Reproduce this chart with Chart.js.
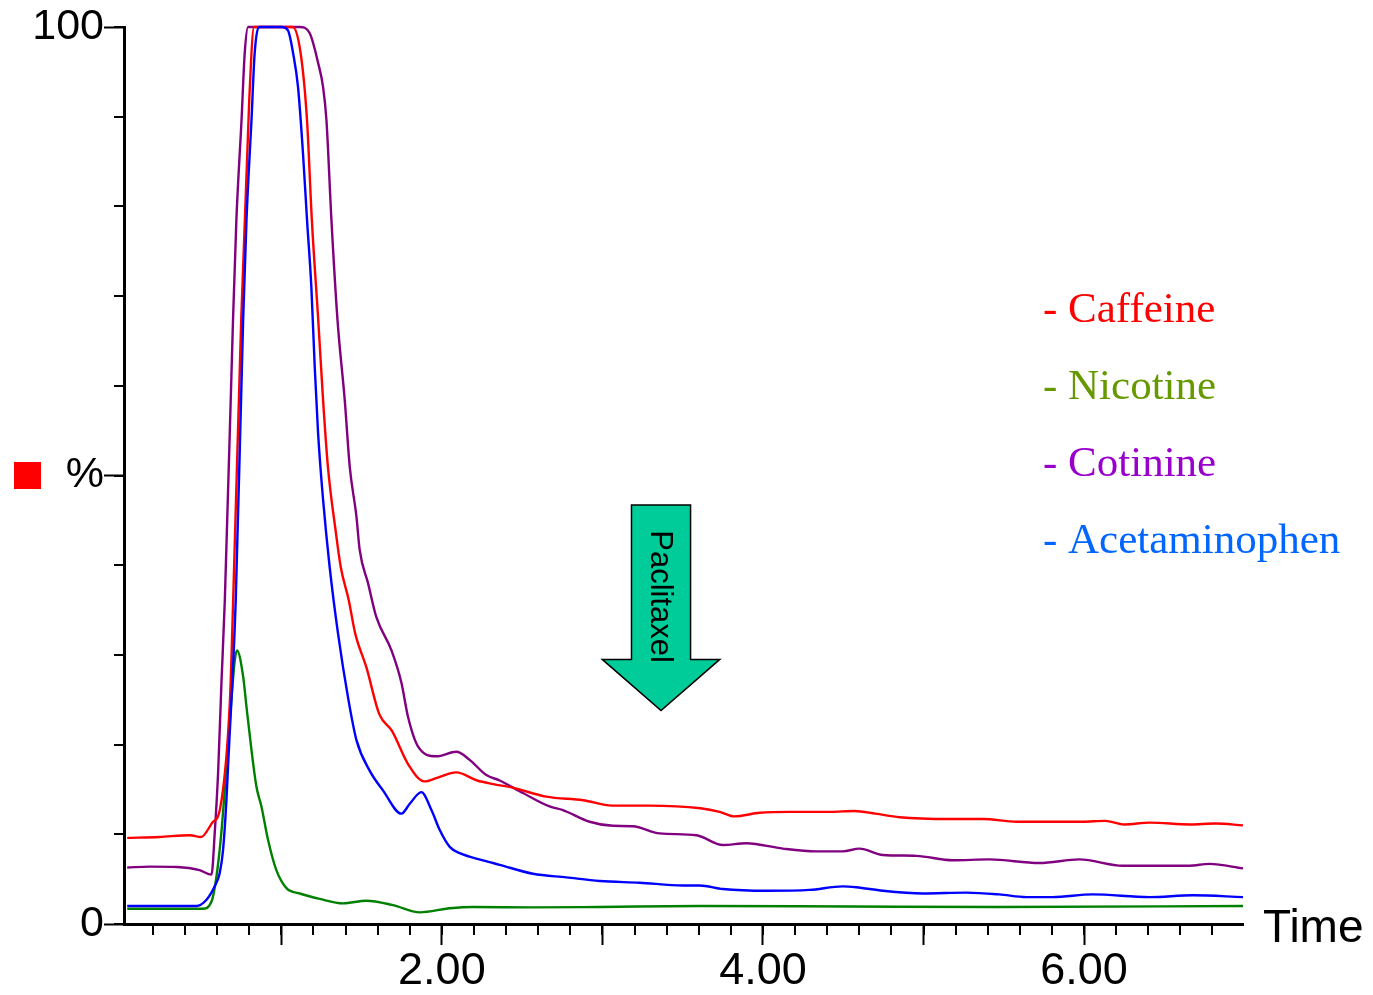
<!DOCTYPE html>
<html>
<head>
<meta charset="utf-8">
<script src="https://cdn.jsdelivr.net/npm/chart.js@4.4.0/dist/chart.umd.min.js"></script>
<style>
  html, body { margin: 0; padding: 0; background: #fff; }
  canvas { display: block; }
</style>
</head>
<body>
<canvas id="chart" width="1373" height="995"></canvas>
<script>
// retention time (min) and relative intensity (%)
const caffeineTime = [0.04,0.24,0.43,0.50,0.57,0.62,0.68,0.70,0.75,0.80,0.83,1.07,1.12,1.16,1.19,1.23,1.26,1.29,1.34,1.37,1.42,1.46,1.53,1.61,1.69,1.79,1.89,1.97,2.09,2.22,2.32,2.44,2.65,2.88,3.06,3.29,3.61,3.73,3.82,3.98,4.17,4.42,4.57,4.70,4.85,5.16,5.37,5.58,5.99,6.13,6.25,6.41,6.66,6.82,6.99];
const caffeineValue = [9.6,9.7,9.9,9.7,11.3,13.0,25.0,36.1,67.3,91.8,100,100,97.1,89.6,78.5,67.3,58.4,51.0,43.6,39.8,36.1,32.4,28.6,23.4,21.5,17.8,15.9,16.3,16.9,16.0,15.6,15.2,14.2,13.8,13.2,13.2,12.9,12.5,12.0,12.4,12.5,12.5,12.6,12.3,11.9,11.7,11.7,11.4,11.4,11.5,11.1,11.3,11.1,11.2,11.0];

const nicotineTime = [0.04,0.51,0.565,0.596,0.627,0.658,0.689,0.710,0.724,0.762,0.783,0.814,0.845,0.876,0.917,0.969,1.032,1.115,1.239,1.384,1.530,1.696,1.862,2.049,2.194,2.567,2.983,3.605,4.54,5.473,6.99];
const nicotineValue = [1.7,1.7,2.5,5.3,10.3,17.5,25.0,29.4,30.5,27.6,24.2,19.4,15.3,13.1,9.4,6.0,4.0,3.4,2.8,2.3,2.6,2.1,1.3,1.75,1.9,1.85,1.9,2.0,1.95,1.9,2.0];

const cotinineTime = [0.04,0.18,0.35,0.49,0.565,0.585,0.606,0.627,0.648,0.699,0.720,0.752,0.772,0.793,1.115,1.177,1.229,1.260,1.281,1.312,1.35,1.395,1.426,1.468,1.488,1.540,1.592,1.686,1.748,1.789,1.851,1.966,2.090,2.173,2.277,2.360,2.505,2.671,2.754,2.920,3.065,3.190,3.356,3.585,3.750,3.896,4.124,4.332,4.497,4.601,4.747,4.955,5.182,5.411,5.722,5.971,6.241,6.407,6.656,6.781,6.99];
const cotinineValue = [6.3,6.4,6.35,6.0,5.5,10.1,16.8,26.9,36.1,67.3,78.5,89.6,97.1,100,100,99.3,96.0,93.3,89.6,78.5,67.3,58.4,51.0,45.4,41.7,38.0,34.2,30.5,26.9,23.1,19.8,18.7,19.2,18.3,16.6,16.0,14.6,13.1,12.7,11.4,10.95,10.9,10.1,9.9,8.8,9.0,8.4,8.1,8.1,8.4,7.7,7.6,7.1,7.2,6.8,7.2,6.5,6.5,6.5,6.7,6.2];

const acetTime = [0.04,0.47,0.534,0.585,0.616,0.637,0.658,0.668,0.716,0.762,0.783,0.814,0.834,0.865,1.001,1.042,1.073,1.104,1.135,1.160,1.187,1.208,1.229,1.260,1.301,1.353,1.415,1.468,1.550,1.633,1.748,1.800,1.872,1.935,1.986,2.049,2.111,2.256,2.360,2.567,2.775,2.983,3.232,3.501,3.605,3.750,4.021,4.290,4.497,4.581,4.747,4.996,5.266,5.473,5.640,5.805,6.054,6.407,6.677,6.99];
const acetValue = [2.0,2.0,2.7,4.2,5.65,8.25,13.8,17.5,36.1,67.3,78.5,89.6,97.1,100,100,99.6,97.1,93.3,85.9,78.5,71.0,62.1,54.7,47.3,39.8,32.4,25.3,20.5,17.1,14.9,12.3,13.4,14.7,12.7,10.5,8.6,7.9,7.1,6.6,5.6,5.2,4.8,4.6,4.3,4.3,3.9,3.7,3.8,4.2,4.1,3.7,3.4,3.5,3.3,3.0,3.0,3.3,3.0,3.2,3.0];

const legendNames = ['Caffeine', 'Nicotine', 'Cotinine', 'Acetaminophen'];
const legendColors = ['#ff0000', '#669900', '#9900cc', '#0066ff'];

const xLabelValues = [2, 4, 6];
const yLabelValues = [0, 50, 100];
const yLabelTexts = ['0', '%', '100'];

// Paclitaxel arrow, in axis units
const arrowCenter = 3.365, shaftHalf = 0.184, wingHalf = 0.366;
const arrowTop = 46.7, arrowNeck = 29.5, arrowTip = 23.8, arrowLabelY = 36.5;

const xTicks = [];
for (let i = 1; i <= 34; i++) xTicks.push(+(i * 0.2).toFixed(1));
const isWhole = v => Math.abs(v - Math.round(v)) < 1e-6;

const pts = (t, v) => t.map((x, i) => ({ x, y: v[i] }));

const extras = {
  id: 'extras',
  afterDraw(chart) {
    const { ctx, chartArea: a, scales: { x, y } } = chart;
    ctx.save();
    // short ticks
    ctx.strokeStyle = '#000';
    ctx.lineWidth = 2;
    ctx.beginPath();
    x.ticks.forEach(t => {
      const px = Math.round(x.getPixelForValue(t.value));
      ctx.moveTo(px, a.bottom); ctx.lineTo(px, a.bottom + 11);
    });
    y.ticks.forEach(t => {
      const py = Math.round(y.getPixelForValue(t.value));
      ctx.moveTo(a.left, py); ctx.lineTo(a.left - 10, py);
    });
    ctx.stroke();

    // arrow
    const cx = x.getPixelForValue(arrowCenter);
    const sl = x.getPixelForValue(arrowCenter - shaftHalf), sr = x.getPixelForValue(arrowCenter + shaftHalf);
    const wl = x.getPixelForValue(arrowCenter - wingHalf), wr = x.getPixelForValue(arrowCenter + wingHalf);
    const top = y.getPixelForValue(arrowTop), neck = y.getPixelForValue(arrowNeck), tip = y.getPixelForValue(arrowTip);
    ctx.beginPath();
    ctx.moveTo(sl, top); ctx.lineTo(sr, top); ctx.lineTo(sr, neck); ctx.lineTo(wr, neck);
    ctx.lineTo(cx, tip); ctx.lineTo(wl, neck); ctx.lineTo(sl, neck); ctx.closePath();
    ctx.fillStyle = '#00cc99';
    ctx.fill();
    ctx.lineWidth = 1.5;
    ctx.strokeStyle = '#000';
    ctx.stroke();
    ctx.save();
    ctx.translate(cx - 1, y.getPixelForValue(arrowLabelY));
    ctx.rotate(Math.PI / 2);
    ctx.font = '31px "Liberation Sans", Arial, sans-serif';
    ctx.fillStyle = '#000';
    ctx.textAlign = 'center';
    ctx.textBaseline = 'middle';
    ctx.fillText('Paclitaxel', 0, 0);
    ctx.restore();

    // legend
    ctx.font = '43px "Liberation Serif", "Times New Roman", serif';
    ctx.textAlign = 'left';
    ctx.textBaseline = 'alphabetic';
    legendNames.forEach((n, i) => {
      ctx.fillStyle = legendColors[i];
      ctx.fillText('- ' + n, 1043, 322 + i * 77);
    });

    // axis title and marker
    ctx.fillStyle = '#000';
    ctx.font = '46px "Liberation Sans", Arial, sans-serif';
    ctx.fillText('Time', 1263, 942);
    ctx.fillStyle = '#ff0000';
    ctx.fillRect(14, 462, 27, 27);
    ctx.restore();
  }
};

const line = (label, data, color, order) => ({
  label, data, borderColor: color, borderWidth: 2.4, pointRadius: 0,
  cubicInterpolationMode: 'monotone', fill: false, clip: false, order
});

new Chart(document.getElementById('chart'), {
  type: 'line',
  data: {
    datasets: [
      line('Caffeine', pts(caffeineTime, caffeineValue), '#ff0000', 1),
      line('Nicotine', pts(nicotineTime, nicotineValue), '#008000', 3),
      line('Cotinine', pts(cotinineTime, cotinineValue), '#800080', 2),
      line('Acetaminophen', pts(acetTime, acetValue), '#0000ff', 0)
    ]
  },
  options: {
    responsive: false,
    animation: false,
    layout: { padding: { left: 0, right: 130, top: 27, bottom: 0 } },
    plugins: { legend: { display: false }, tooltip: { enabled: false } },
    scales: {
      x: {
        type: 'linear', min: 0.02, max: 6.99,
        afterBuildTicks: s => { s.ticks = xTicks.map(v => ({ value: v })); },
        afterFit: s => { s.height = 71; },
        border: { color: '#000', width: 3 },
        grid: {
          drawOnChartArea: false, tickLength: 21, tickWidth: 2,
          tickColor: c => isWhole(c.tick.value) ? '#000' : 'rgba(0,0,0,0)'
        },
        ticks: {
          autoSkip: false, maxRotation: 0, padding: 0, color: '#000',
          font: { family: '"Liberation Sans", Arial, sans-serif', size: 45 },
          callback: v => xLabelValues.some(l => Math.abs(l - v) < 1e-6) ? v.toFixed(2) : ''
        }
      },
      y: {
        min: 0, max: 100,
        afterFit: s => { s.width = 124; },
        border: { color: '#000', width: 3 },
        grid: {
          drawOnChartArea: false, tickLength: 20, tickWidth: 2,
          tickColor: c => yLabelValues.includes(c.tick.value) ? '#000' : 'rgba(0,0,0,0)'
        },
        ticks: {
          stepSize: 10, padding: 0, color: '#000',
          font: { family: '"Liberation Sans", Arial, sans-serif', size: 43 },
          callback: v => { const i = yLabelValues.indexOf(v); return i < 0 ? '' : yLabelTexts[i]; }
        }
      }
    }
  },
  plugins: [extras]
});
</script>
</body>
</html>
